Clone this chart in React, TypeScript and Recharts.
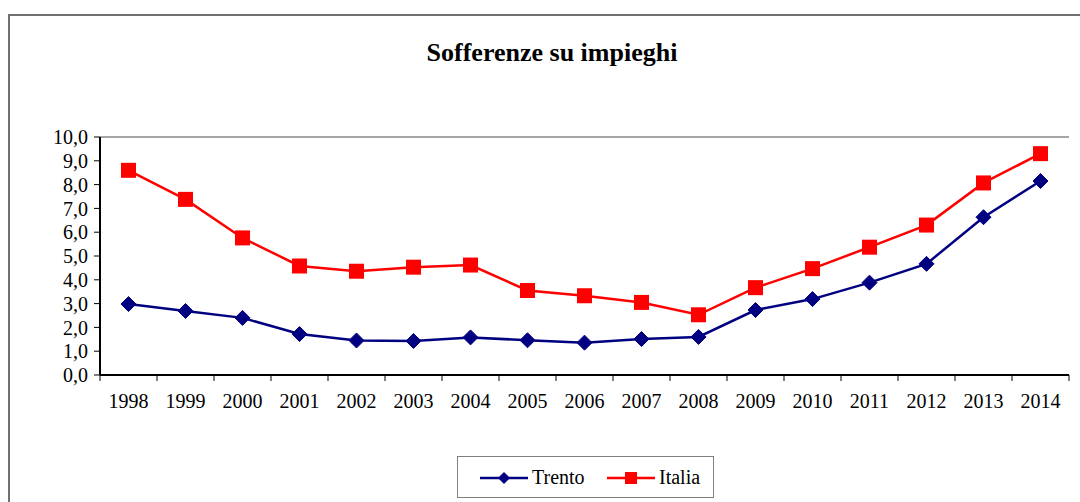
import { CartesianGrid, Line, LineChart, XAxis, YAxis } from "recharts";

const years = [
  "1998", "1999", "2000", "2001", "2002", "2003", "2004", "2005", "2006",
  "2007", "2008", "2009", "2010", "2011", "2012", "2013", "2014",
];
const trento = [
  2.98, 2.69, 2.4, 1.72, 1.45, 1.43, 1.58, 1.46, 1.36, 1.51, 1.6, 2.73, 3.19,
  3.88, 4.67, 6.63, 8.15,
];
const italia = [
  8.6, 7.38, 5.76, 4.58, 4.36, 4.53, 4.62, 3.55, 3.33, 3.05, 2.53, 3.67, 4.47,
  5.37, 6.3, 8.07, 9.3,
];
const yTicks = [0, 1, 2, 3, 4, 5, 6, 7, 8, 9, 10];

const data = years.map((year, i) => ({
  year,
  Trento: trento[i],
  Italia: italia[i],
}));

const W = 1080;
const H = 502;
const PLOT_LEFT = 100;
const PLOT_RIGHT = 1069;
const PLOT_TOP = 137;
const PLOT_BOTTOM = 375;
const bandWidth = (PLOT_RIGHT - PLOT_LEFT) / years.length;
const FONT = "'Liberation Serif', 'Times New Roman', serif";

const NAVY = "#000080";
const RED = "#ff0000";

const Diamond = (props: any) => {
  const { cx, cy } = props;
  if (cx == null || cy == null) return null;
  const r = 7.5;
  return (
    <path
      d={`M${cx},${cy - r}L${cx + r},${cy}L${cx},${cy + r}L${cx - r},${cy}Z`}
      fill={NAVY}
      stroke={NAVY}
    />
  );
};

const Square = (props: any) => {
  const { cx, cy } = props;
  if (cx == null || cy == null) return null;
  const s = 7.5;
  return <rect x={cx - s} y={cy - s} width={s * 2} height={s * 2} fill={RED} />;
};

const XTick = (props: any) => {
  const { x, y, payload, index } = props;
  const left = x - bandWidth / 2;
  return (
    <g>
      <line x1={left} y1={y} x2={left} y2={y + 6} stroke="#000" />
      {index === years.length - 1 && (
        <line
          x1={x + bandWidth / 2}
          y1={y}
          x2={x + bandWidth / 2}
          y2={y + 6}
          stroke="#000"
        />
      )}
      <text
        x={x}
        y={y + 33}
        textAnchor="middle"
        fontSize={20}
        fontFamily={FONT}
        fill="#000"
      >
        {payload.value}
      </text>
    </g>
  );
};

const LegendBox = () => (
  <div
    style={{
      position: "absolute",
      left: 457,
      top: 456,
      width: 257,
      height: 42,
      border: "1px solid #808080",
      boxSizing: "border-box",
      background: "#fff",
    }}
  >
    <svg width={255} height={40} style={{ display: "block" }}>
      <line x1={22} y1={21} x2={70} y2={21} stroke={NAVY} strokeWidth={2.5} />
      <path d="M46,15L52,21L46,27L40,21Z" fill={NAVY} />
      <text x={74} y={27} fontFamily={FONT} fontSize={20}>
        Trento
      </text>
      <line x1={149} y1={21} x2={197} y2={21} stroke={RED} strokeWidth={2.5} />
      <rect x={167} y={15} width={12} height={12} fill={RED} />
      <text x={201} y={27} fontFamily={FONT} fontSize={20}>
        Italia
      </text>
    </svg>
  </div>
);

export default function App() {
  return (
    <div
      style={{
        position: "absolute",
        left: 0,
        top: 0,
        width: W,
        height: H,
        background: "#fff",
        overflow: "hidden",
      }}
    >
      <div
        style={{
          position: "absolute",
          left: 8,
          top: 14,
          width: W,
          height: H,
          borderLeft: "2px solid #707070",
          borderTop: "2px solid #707070",
        }}
      />
      <div
        style={{
          position: "absolute",
          left: 0,
          top: 38,
          width: 1104,
          textAlign: "center",
          fontFamily: FONT,
          fontWeight: "bold",
          fontSize: 26,
        }}
      >
        Sofferenze su impieghi
      </div>
      <div style={{ position: "absolute", left: 0, top: 0 }}>
        <LineChart
          width={W}
          height={H}
          data={data}
          margin={{
            top: PLOT_TOP,
            left: PLOT_LEFT - 60,
            right: W - PLOT_RIGHT,
            bottom: H - PLOT_BOTTOM - 40,
          }}
        >
          <CartesianGrid
            vertical={false}
            horizontal
            stroke="#a6a6a6"
            strokeWidth={2}
          />
          <XAxis
            dataKey="year"
            height={40}
            padding={{ left: bandWidth / 2, right: bandWidth / 2 }}
            axisLine={{ stroke: "#000", strokeWidth: 2 }}
            tickLine={false}
            tickSize={0}
            tickMargin={0}
            tick={<XTick />}
            interval={0}
          />
          <YAxis
            yAxisId="left"
            width={60}
            domain={[0, 10]}
            ticks={yTicks}
            interval={0}
            axisLine={{ stroke: "#000", strokeWidth: 2 }}
            tickLine={{ stroke: "#000" }}
            tickSize={6}
            tickMargin={6}
            tickFormatter={(v: number) => v.toFixed(1).replace(".", ",")}
            tick={{ fontSize: 20, fontFamily: FONT, fill: "#000" }}
          />
          <YAxis
            yAxisId="right"
            orientation="right"
            width={0}
            domain={[0, 10]}
            tick={false}
            tickLine={false}
            axisLine={{ stroke: "#909090", strokeWidth: 2 }}
          />
          <Line
            yAxisId="left"
            dataKey="Trento"
            stroke={NAVY}
            strokeWidth={2.5}
            dot={<Diamond />}
            activeDot={false}
            isAnimationActive={false}
          />
          <Line
            yAxisId="left"
            dataKey="Italia"
            stroke={RED}
            strokeWidth={2.5}
            dot={<Square />}
            activeDot={false}
            isAnimationActive={false}
          />
        </LineChart>
      </div>
      <LegendBox />
    </div>
  );
}
